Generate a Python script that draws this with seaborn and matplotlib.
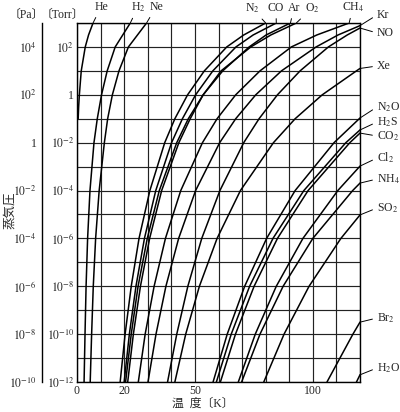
import numpy as np
import pandas as pd
import matplotlib
matplotlib.use("Agg")
import matplotlib.pyplot as plt
import seaborn as sns

# ---------------- data: log10(vapour pressure / Torr) and temperature (K) ----------------
he_logp = [-1, -0.5, 0, 1, 2, 2.5, 3]
he_T = [0.5, 0.7, 1.0, 1.8, 3.5, 4.9, 6.8]

h2_logp = [-12, -10, -8, -6, -4, -2, -1, 0, 1, 2, 3]
h2_T = [3.0, 3.4, 3.85, 4.5, 5.5, 7.2, 8.6, 10.4, 12.8, 16.2, 22.6]

ne_logp = [-12, -10, -8, -6, -4, -2, -1, 0, 1, 2, 3]
ne_T = [5.6, 6.2, 6.9, 7.9, 9.4, 11.6, 13.0, 15.0, 17.8, 21.8, 29.5]

top_logp = [-12, -10, -8, -6, -4, -2, -1, 0, 1, 2, 2.5, 3]
n2_T = [18.3, 20.4, 23.0, 26.3, 30.9, 37.2, 41.5, 46.9, 54.0, 63.5, 70.7, 80.0]
co_T = [20.0, 22.2, 25.0, 28.6, 33.4, 40.1, 44.7, 50.3, 57.6, 67.4, 74.7, 84.5]
ar_T = [20.6, 23.0, 25.9, 29.8, 34.9, 42.3, 47.2, 53.5, 61.8, 73.0, 80.2, 90.5]
o2_T = [21.5, 23.9, 26.9, 30.8, 35.9, 43.2, 48.0, 53.5, 61.1, 73.7, 82.2, 93.0]
ch4_T = [26.0, 28.9, 32.7, 37.5, 44.0, 53.2, 59.4, 67.3, 77.6, 90.9, 101.7, 115.4]

kr_logp = [-12, -10, -8, -6, -4, -2, -1, 0, 1, 2, 2.5, 2.89]
kr_T = [30.1, 33.5, 37.7, 43.1, 50.3, 60.5, 67.3, 75.8, 86.7, 101.4, 110.7, 120.0]

no_logp = [-12, -10, -8, -6, -4, -2, -1, 0, 1, 2, 2.5, 2.79]
no_T = [38.4, 42.3, 47.0, 52.9, 60.6, 70.7, 77.2, 85.0, 94.6, 106.6, 114.6, 120.0]

xe_logp = [-12, -10, -8, -6, -4, -2, -1, 0, 1, 1.1]
xe_T = [41.5, 46.1, 51.9, 59.4, 69.3, 83.3, 92.5, 104.0, 118.5, 120.0]

n2o_logp = [-12, -10, -8, -6, -4, -2, -0.97]
n2o_T = [57.7, 63.7, 71.1, 80.4, 92.5, 109.0, 120.0]

h2s_logp = [-12, -10, -8, -6, -4, -2, -1.47]
h2s_T = [59.1, 65.4, 73.2, 83.1, 96.2, 114.0, 120.0]

co2_logp = [-12, -10, -8, -6, -4, -2, -1.6]
co2_T = [60.8, 67.2, 75.1, 85.0, 98.0, 115.7, 120.0]

cl2_logp = [-12, -10, -8, -6, -4, -2.98]
cl2_T = [68.4, 75.6, 84.5, 95.8, 110.6, 120.0]

nh3_logp = [-12, -10, -8, -6, -4, -3.69]
nh3_T = [69.8, 77.6, 87.4, 100.0, 116.9, 120.0]

so2_logp = [-12, -10, -8, -6, -5.02]
so2_T = [79.2, 87.8, 98.4, 111.9, 120.0]

br2_logp = [-12, -11, -10, -9.5]
br2_T = [106.0, 111.5, 117.0, 120.0]

h2o_logp = [-12, -11.7]
h2o_T = [118.5, 120.0]

x_ticklabels = {0: "0", 20: "20", 50: "50", 100: "100"}
torr_decades = list(range(-12, 4))
pa_decades = list(range(-10, 6))

series = [
    ("He", he_logp, he_T), ("H2", h2_logp, h2_T), ("Ne", ne_logp, ne_T),
    ("N2", top_logp, n2_T), ("CO", top_logp, co_T), ("Ar", top_logp, ar_T),
    ("O2", top_logp, o2_T), ("CH4", top_logp, ch4_T), ("Kr", kr_logp, kr_T),
    ("NO", no_logp, no_T), ("Xe", xe_logp, xe_T), ("N2O", n2o_logp, n2o_T),
    ("H2S", h2s_logp, h2s_T), ("CO2", co2_logp, co2_T), ("Cl2", cl2_logp, cl2_T),
    ("NH3", nh3_logp, nh3_T), ("SO2", so2_logp, so2_T), ("Br2", br2_logp, br2_T),
    ("H2O", h2o_logp, h2o_T),
]
rows = []
for name, lp, tt in series:
    for order, (l, t) in enumerate(zip(lp, tt)):
        rows.append({"gas": name, "order": order, "T": t, "P": 10.0 ** l})
df = pd.DataFrame(rows)

# ---------------- style ----------------
sns.set_style("white")
plt.rcParams["font.family"] = ["Liberation Serif", "Noto Sans CJK JP", "DejaVu Sans"]
plt.rcParams["mathtext.fontset"] = "stix"

W, H = 400, 412
fig = plt.figure(figsize=(W / 100, H / 100), dpi=100)

def fx(x):
    return x / W

def fy(y):
    return 1 - y / H

left_px, right_px, top_px, bot_px = 77, 360, 23, 382
ax = fig.add_axes([fx(left_px), fy(bot_px), fx(right_px - left_px), (bot_px - top_px) / H])

sns.lineplot(data=df, x="T", y="P", units="gas", estimator=None, sort=False,
             color="black", lw=1.1, ax=ax, legend=False)

ax.set_yscale("log")
ax.set_xlim(0, 120)
ax.set_ylim(1e-12, 1e3)
ax.set_xlabel("")
ax.set_ylabel("")

ax.set_xticks(range(0, 121, 10))
ax.set_xticklabels([x_ticklabels.get(v, "") for v in range(0, 121, 10)], fontsize=8.5)
ax.set_yticks([10.0 ** d for d in torr_decades])
def torr_lab(d):
    if d % 2 or d > 2:
        return ""
    return "1" if d == 0 else r"$10^{%d}$" % d
ax.set_yticklabels([torr_lab(d) for d in torr_decades], fontsize=8.5)
ax.minorticks_off()
ax.tick_params(axis="both", length=0, pad=2)
ax.grid(True, which="major", color="#222222", lw=0.85)
for s in ax.spines.values():
    s.set_color("black")
    s.set_linewidth(1.0)

# Pa axis
axp = fig.add_axes([fx(42), fy(bot_px), 0.001, (bot_px - top_px) / H])
axp.set_yscale("log")
axp.set_ylim(1e-10, 1e5)
axp.set_xticks([])
for k in ("top", "right", "bottom"):
    axp.spines[k].set_visible(False)
axp.spines["left"].set_linewidth(1.0)
axp.spines["left"].set_color("black")
axp.set_yticks([10.0 ** d for d in pa_decades])
def pa_lab(d):
    if d % 2 or d > 4:
        return ""
    return "1" if d == 0 else r"$10^{%d}$" % d
axp.set_yticklabels([pa_lab(d) for d in pa_decades], fontsize=8.5)
axp.minorticks_off()
axp.tick_params(axis="y", direction="in", length=4, width=1.0, pad=4)
axp.patch.set_visible(False)

# ---------------- curve labels ----------------
lab_kw = dict(fontsize=8.5, va="center", annotation_clip=False,
              textcoords="figure fraction")
arr = dict(arrowstyle="-", lw=0.7, color="black", shrinkA=1, shrinkB=0)

top_labels = [
    ("He", he_T[-1], 101, 7), ("H$_2$", h2_T[-1], 138, 7), ("Ne", ne_T[-1], 156, 7),
    ("N$_2$", n2_T[-1], 252, 8), ("CO", co_T[-1], 276, 8), ("Ar", ar_T[-1], 294, 8),
    ("O$_2$", o2_T[-1], 312, 8), ("CH$_4$", ch4_T[-1], 353, 7),
]
for txt, t, xp, yp in top_labels:
    ax.annotate(txt, xy=(t, 1e3), xytext=(fx(xp), fy(yp)), ha="center",
                arrowprops=arr, **lab_kw)

right_labels = [
    ("Kr", kr_T[-1], 10 ** kr_logp[-1], 15), ("NO", no_T[-1], 10 ** no_logp[-1], 33),
    ("Xe", xe_T[-1], 10 ** xe_logp[-1], 66), ("N$_2$O", n2o_T[-1], 10 ** n2o_logp[-1], 107),
    ("H$_2$S", h2s_T[-1], 10 ** h2s_logp[-1], 122), ("CO$_2$", co2_T[-1], 10 ** co2_logp[-1], 136),
    ("Cl$_2$", cl2_T[-1], 10 ** cl2_logp[-1], 158), ("NH$_4$", nh3_T[-1], 10 ** nh3_logp[-1], 179),
    ("SO$_2$", so2_T[-1], 10 ** so2_logp[-1], 208), ("Br$_2$", br2_T[-1], 10 ** br2_logp[-1], 318),
    ("H$_2$O", h2o_T[-1], 10 ** h2o_logp[-1], 368),
]
for txt, t, p, yp in right_labels:
    a = dict(arr)
    a["relpos"] = (0, 0.5)
    ax.annotate(txt, xy=(t, p), xytext=(fx(377), fy(yp)), ha="left",
                arrowprops=a, **lab_kw)

# ---------------- axis titles ----------------
fig.text(fx(26), fy(15), "〔Pa〕", ha="center", va="center", fontsize=8.5)
fig.text(fx(62), fy(15), "〔Torr〕", ha="center", va="center", fontsize=8.5)
fig.text(fx(10), fy(210), "蒸気圧", ha="center", va="center", rotation=90, fontsize=9)
fig.text(fx(203), fy(404), "温  度〔K〕", ha="center", va="center", fontsize=8.5)

fig.savefig("out.png", dpi=100)
